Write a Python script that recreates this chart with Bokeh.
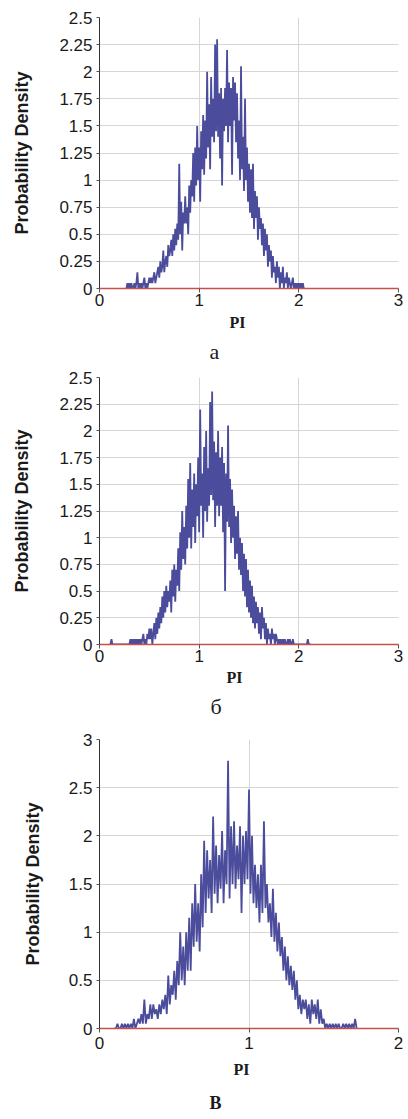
from bokeh.plotting import figure
from bokeh.layouts import column
from bokeh.models import Range1d, FixedTicker, CustomJSTickFormatter, Title
from bokeh.embed import file_html
from bokeh.resources import INLINE

# ---------------- data ----------------
BIN_STEP = 0.01

a_x_start = 0.27
a_density = [
    0, 0.05, 0, 0.05, 0, 0.05, 0, 0, 0.05, 0,
    0.05, 0.15, 0, 0.05, 0, 0.05, 0, 0.05, 0.1, 0,
    0.05, 0, 0.05, 0.1, 0.05, 0.1, 0.05, 0.1, 0.15, 0.05,
    0.1, 0.15, 0.2, 0.1, 0.25, 0.15, 0.2, 0.35, 0.15, 0.25,
    0.3, 0.2, 0.4, 0.3, 0.35, 0.45, 0.3, 0.5, 0.35, 0.55,
    0.4, 0.6, 0.45, 1.15, 0.5, 0.8, 0.35, 0.7, 0.6, 0.85,
    0.6, 0.75, 0.5, 0.95, 0.7, 1.0, 0.85, 1.25, 0.8, 1.3,
    0.95, 1.5, 1.0, 1.3, 0.8, 1.45, 1.1, 1.6, 1.05, 1.55,
    1.2, 2.0, 1.3, 1.7, 1.1, 1.95, 1.4, 1.75, 1.35, 2.25,
    1.45, 2.3, 1.4, 1.8, 1.2, 1.85, 0.95, 1.75, 1.45, 1.85,
    1.5, 2.2, 1.35, 1.9, 1.5, 1.85, 1.05, 1.95, 1.55, 1.9,
    1.35, 1.8, 1.2, 1.55, 1.0, 2.05, 1.1, 1.4, 0.9, 1.75,
    1.0, 1.3, 0.8, 1.15, 0.7, 1.1, 0.65, 1.15, 0.55, 0.9,
    0.65, 0.85, 0.45, 0.75, 0.55, 0.65, 0.4, 0.6, 0.3, 0.55,
    0.35, 0.5, 0.2, 0.4, 0.25, 0.35, 0.1, 0.3, 0.15, 0.2,
    0.05, 0.25, 0.1, 0.2, 0, 0.15, 0.05, 0.2, 0, 0.1,
    0.05, 0.15, 0, 0.1, 0.05, 0, 0.05, 0.1, 0, 0.05,
    0, 0.05, 0, 0.05, 0, 0.05, 0, 0.05, 0,
]

b_x_start = 0.10
b_density = [
    0, 0, 0.05, 0, 0, 0, 0, 0, 0, 0,
    0, 0, 0, 0, 0, 0, 0, 0, 0, 0,
    0, 0.05, 0, 0.05, 0, 0.05, 0, 0.05, 0, 0.05,
    0, 0.05, 0, 0.05, 0.1, 0, 0.05, 0, 0.1, 0.05,
    0.15, 0.05, 0.15, 0, 0.1, 0.2, 0.05, 0.25, 0.1, 0.3,
    0.15, 0.35, 0.2, 0.45, 0.25, 0.5, 0.3, 0.55, 0.35, 0.5,
    0.4, 0.6, 0.3, 0.7, 0.45, 0.75, 0.4, 0.7, 0.55, 0.9,
    0.5, 1.05, 0.7, 1.25, 0.8, 1.1, 0.75, 1.3, 0.9, 1.55,
    1.0, 1.7, 0.9, 1.45, 1.1, 1.6, 0.95, 1.5, 1.2, 1.75,
    1.05, 2.2, 1.3, 1.6, 1.0, 1.85, 1.25, 2.0, 1.15, 1.65,
    1.3, 2.27, 1.4, 2.37, 1.35, 1.9, 1.1, 1.8, 1.3, 2.0,
    1.2, 1.75, 1.3, 1.85, 1.05, 1.7, 0.5, 1.6, 1.15, 2.05,
    1.1, 1.55, 0.95, 1.45, 1.0, 1.3, 0.8, 1.2, 0.85, 1.25,
    0.7, 1.0, 0.65, 0.95, 0.5, 0.85, 0.45, 0.8, 0.35, 0.7,
    0.3, 0.6, 0.25, 0.55, 0.2, 0.45, 0.15, 0.4, 0.2, 0.35,
    0.1, 0.3, 0.05, 0.35, 0.15, 0.25, 0.05, 0.2, 0, 0.15,
    0.05, 0.1, 0, 0.15, 0.05, 0.1, 0, 0.1, 0.05, 0,
    0.05, 0, 0.05, 0, 0.05, 0, 0.05, 0, 0, 0.05,
    0, 0.05, 0, 0, 0.05, 0, 0, 0, 0, 0,
    0, 0, 0, 0, 0, 0, 0, 0, 0, 0.05,
    0, 0, 0,
]

c_x_start = 0.10
c_density = [
    0, 0, 0.05, 0, 0, 0.05, 0, 0.05, 0, 0.05,
    0, 0.05, 0, 0.1, 0, 0.05, 0.1, 0.05, 0.15, 0.05,
    0.3, 0.05, 0.15, 0.1, 0.25, 0.1, 0.25, 0.15, 0.2, 0.1,
    0.25, 0.15, 0.3, 0.2, 0.35, 0.15, 0.55, 0.25, 0.45, 0.35,
    0.6, 0.3, 0.7, 0.45, 1.0, 0.5, 0.85, 0.45, 1.0, 0.6,
    1.15, 0.6, 1.3, 0.85, 1.5, 0.9, 1.3, 0.8, 1.6, 1.05,
    1.95, 1.2, 1.85, 1.35, 1.75, 1.2, 2.2, 1.4, 1.9, 1.3,
    1.8, 1.45, 2.05, 1.3, 1.85, 1.5, 2.78, 1.35, 2.1, 1.5,
    2.15, 1.45, 1.9, 1.55, 2.1, 1.2, 2.0, 1.5, 2.05, 1.55,
    2.48, 1.4, 2.0, 1.3, 1.7, 1.25, 1.6, 1.1, 1.7, 1.2,
    2.15, 1.25, 1.5, 1.1, 1.3, 0.95, 1.45, 0.9, 1.2, 0.8,
    1.1, 0.75, 0.95, 0.6, 0.85, 0.5, 0.75, 0.45, 0.65, 0.4,
    0.6, 0.3, 0.5, 0.2, 0.35, 0.15, 0.3, 0.2, 0.3, 0.1,
    0.25, 0.05, 0.3, 0.15, 0.25, 0.1, 0.3, 0.05, 0.2, 0.05,
    0.1, 0, 0.05, 0, 0.05, 0, 0.05, 0, 0.05, 0,
    0.05, 0, 0, 0.05, 0, 0.05, 0, 0.05, 0, 0.05,
    0, 0.1, 0,
]

a_xticks = [0, 1, 2, 3]
a_yticks = [0, 0.25, 0.5, 0.75, 1, 1.25, 1.5, 1.75, 2, 2.25, 2.5]
b_xticks = [0, 1, 2, 3]
b_yticks = [0, 0.25, 0.5, 0.75, 1, 1.25, 1.5, 1.75, 2, 2.25, 2.5]
c_xticks = [0, 1, 2]
c_yticks = [0, 0.5, 1, 1.5, 2, 2.5, 3]

x_title = "PI"
y_title = "Probability Density"
captions = ["а", "б", "В"]

LINE_COLOR = "#4B4D9C"
ZERO_COLOR = "#C8504B"
GRID_COLOR = "#D6D6D6"
TEXT_COLOR = "#1a1a1a"


def make_panel(x_start, dens, xticks, yticks, caption, height, border, xlab_standoff,
               pi_offset, pi_standoff, cap_offset, cap_standoff, ylab_standoff, caption_bold):
    xs = [round(x_start + BIN_STEP * i, 4) for i in range(len(dens))]
    top, bottom, left, right = border
    p = figure(width=408, height=height, output_backend="svg", toolbar_location=None,
               x_range=Range1d(xticks[0], xticks[-1]), y_range=Range1d(yticks[0], yticks[-1]),
               min_border_top=top, min_border_bottom=bottom, min_border_left=left,
               min_border_right=right)
    p.outline_line_color = None
    p.background_fill_color = "white"
    p.border_fill_color = "white"

    p.line(xs, dens, line_color=LINE_COLOR, line_width=1.8, line_alpha=1.0)

    fmt = CustomJSTickFormatter(code="return String(tick);")
    for ax, ticks in ((p.xaxis[0], xticks), (p.yaxis[0], yticks)):
        ax.ticker = FixedTicker(ticks=ticks, minor_ticks=[])
        ax.formatter = fmt
        ax.major_label_text_font = "Liberation Sans"
        ax.major_label_text_font_size = "17px"
        ax.major_label_text_color = TEXT_COLOR
        ax.minor_tick_line_color = None
        ax.major_tick_in = 0
        ax.major_tick_line_color = "#555555"

    p.xaxis.axis_line_color = ZERO_COLOR
    p.xaxis.axis_line_width = 1.5
    p.xaxis.major_tick_out = 4
    p.xaxis.major_label_standoff = xlab_standoff

    p.yaxis.axis_line_color = "#333333"
    p.yaxis.major_tick_out = 3
    p.yaxis.major_label_standoff = 4
    p.yaxis.axis_label = y_title
    p.yaxis.axis_label_text_font = "Liberation Sans"
    p.yaxis.axis_label_text_font_style = "bold"
    p.yaxis.axis_label_text_font_size = "18px"
    p.yaxis.axis_label_text_color = TEXT_COLOR
    p.yaxis.axis_label_standoff = ylab_standoff

    p.xgrid.grid_line_color = GRID_COLOR
    p.ygrid.grid_line_color = GRID_COLOR

    p.add_layout(Title(text=x_title, align="left", offset=pi_offset, standoff=pi_standoff,
                       text_font="Liberation Serif", text_font_style="bold",
                       text_font_size="16px", text_color=TEXT_COLOR), "below")
    p.add_layout(Title(text=caption, align="left", offset=cap_offset, standoff=cap_standoff,
                       text_font="Liberation Serif",
                       text_font_style="bold" if caption_bold else "normal",
                       text_font_size="18px" if caption_bold else "22px",
                       text_color=TEXT_COLOR), "below")
    return p


pa = make_panel(a_x_start, a_density, a_xticks, a_yticks, captions[0], 370,
                (17, 82, 99, 5), 1, 130, 7, 110, 5, 24, False)
pb = make_panel(b_x_start, b_density, b_xticks, b_yticks, captions[1], 360,
                (7, 86, 98, 6), 1, 127, 4, 111, 8, 24, False)
pc = make_panel(c_x_start, c_density, c_xticks, c_yticks, captions[2], 389,
                (9, 91, 98, 10), 4, 134, 14, 110, 12, 23, True)

layout = column(pa, pb, pc, spacing=0)
open("out.html", "w").write(file_html(layout, INLINE))
